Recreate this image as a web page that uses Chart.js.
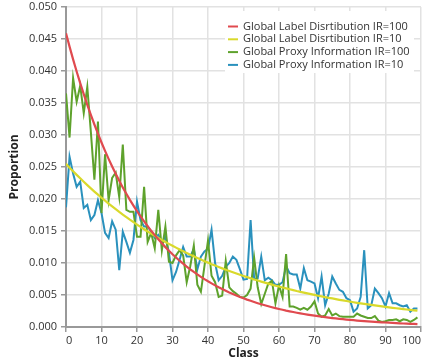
<!DOCTYPE html>
<html>
<head>
<meta charset="utf-8">
<script src="https://cdn.jsdelivr.net/npm/chart.js@4.4.1/dist/chart.umd.min.js"></script>
<style>
    html, body { margin: 0; padding: 0; background: #fff; }
    #wrap { width: 423px; height: 360px; }
</style>
</head>
<body>
<div id="wrap"><canvas id="propChart" width="423" height="360"></canvas></div>
<script>
// class index 0..99
const classes = Array.from({ length: 100 }, (_, i) => i);
const xTicks = [0, 10, 20, 30, 40, 50, 60, 70, 80, 90, 100];

const labelDist100 = [
    0.04590, 0.04381, 0.04182, 0.03992, 0.03811, 0.03638, 0.03472, 0.03314, 0.03164, 0.03020,
    0.02883, 0.02752, 0.02627, 0.02507, 0.02393, 0.02285, 0.02181, 0.02082, 0.01987, 0.01897,
    0.01811, 0.01728, 0.01650, 0.01575, 0.01503, 0.01435, 0.01370, 0.01307, 0.01248, 0.01191,
    0.01137, 0.01086, 0.01036, 0.00989, 0.00944, 0.00901, 0.00860, 0.00821, 0.00784, 0.00748,
    0.00714, 0.00682, 0.00651, 0.00621, 0.00593, 0.00566, 0.00540, 0.00516, 0.00492, 0.00470,
    0.00449, 0.00428, 0.00409, 0.00390, 0.00372, 0.00355, 0.00339, 0.00324, 0.00309, 0.00295,
    0.00282, 0.00269, 0.00256, 0.00245, 0.00234, 0.00223, 0.00213, 0.00203, 0.00194, 0.00185,
    0.00177, 0.00169, 0.00161, 0.00154, 0.00147, 0.00140, 0.00134, 0.00128, 0.00122, 0.00116,
    0.00111, 0.00106, 0.00101, 0.00097, 0.00092, 0.00088, 0.00084, 0.00080, 0.00077, 0.00073,
    0.00070, 0.00067, 0.00064, 0.00061, 0.00058, 0.00055, 0.00053, 0.00050, 0.00048, 0.00046
];

const labelDist10 = [
    0.02549, 0.02490, 0.02433, 0.02377, 0.02323, 0.02269, 0.02217, 0.02166, 0.02116, 0.02068,
    0.02020, 0.01974, 0.01928, 0.01884, 0.01841, 0.01798, 0.01757, 0.01717, 0.01677, 0.01639,
    0.01601, 0.01564, 0.01528, 0.01493, 0.01459, 0.01425, 0.01392, 0.01360, 0.01329, 0.01299,
    0.01269, 0.01240, 0.01211, 0.01183, 0.01156, 0.01130, 0.01104, 0.01078, 0.01053, 0.01029,
    0.01006, 0.00982, 0.00960, 0.00938, 0.00916, 0.00895, 0.00875, 0.00855, 0.00835, 0.00816,
    0.00797, 0.00779, 0.00761, 0.00743, 0.00726, 0.00709, 0.00693, 0.00677, 0.00662, 0.00646,
    0.00632, 0.00617, 0.00603, 0.00589, 0.00576, 0.00562, 0.00550, 0.00537, 0.00525, 0.00513,
    0.00501, 0.00489, 0.00478, 0.00467, 0.00456, 0.00446, 0.00435, 0.00425, 0.00416, 0.00406,
    0.00397, 0.00387, 0.00378, 0.00370, 0.00361, 0.00353, 0.00345, 0.00337, 0.00329, 0.00322,
    0.00314, 0.00307, 0.00300, 0.00293, 0.00286, 0.00280, 0.00273, 0.00267, 0.00261, 0.00255
];

const proxyInfo100 = [
    0.0365, 0.0296, 0.0389, 0.0352, 0.0377, 0.0334, 0.0375, 0.0305, 0.0230, 0.0321,
    0.0178, 0.0270, 0.0198, 0.0233, 0.0241, 0.0203, 0.0285, 0.0183, 0.0180, 0.0180,
    0.0141, 0.0141, 0.0219, 0.0133, 0.0147, 0.0123, 0.0183, 0.0120, 0.0157, 0.0102,
    0.0100, 0.0112, 0.0120, 0.0112, 0.0070, 0.0095, 0.0127, 0.0066, 0.0055, 0.0095,
    0.0135, 0.0080, 0.0070, 0.0047, 0.0049, 0.0103, 0.0062, 0.0056, 0.0052, 0.0047,
    0.0046, 0.0050, 0.0060, 0.0108, 0.0062, 0.0036, 0.0052, 0.0068, 0.0072, 0.0037,
    0.0065, 0.0047, 0.0114, 0.0032, 0.0032, 0.0030, 0.0027, 0.0030, 0.0027, 0.0032,
    0.0040, 0.0021, 0.0016, 0.0018, 0.0028, 0.0018, 0.0021, 0.0017, 0.0016, 0.0016,
    0.0016, 0.0016, 0.0021, 0.0018, 0.0016, 0.0014, 0.0014, 0.0017, 0.0010, 0.0008,
    0.0009, 0.0011, 0.0011, 0.0012, 0.0009, 0.0012, 0.0011, 0.0008, 0.0011, 0.0015
];

const proxyInfo10 = [
    0.0187, 0.0266, 0.0240, 0.0219, 0.0227, 0.0186, 0.0191, 0.0167, 0.0175, 0.0198,
    0.0178, 0.0147, 0.0139, 0.0165, 0.0152, 0.0089, 0.0149, 0.0133, 0.0116, 0.0136,
    0.0196, 0.0167, 0.0157, 0.0157, 0.0149, 0.0139, 0.0144, 0.0133, 0.0141, 0.0116,
    0.0073, 0.0086, 0.0105, 0.0125, 0.0110, 0.0110, 0.0122, 0.0090, 0.0110, 0.0118,
    0.0122, 0.0152, 0.0100, 0.0073, 0.0080, 0.0094, 0.0100, 0.0110, 0.0105, 0.0090,
    0.0074, 0.0075, 0.0167, 0.0075, 0.0076, 0.0110, 0.0073, 0.0077, 0.0073, 0.0066,
    0.0066, 0.0070, 0.0095, 0.0084, 0.0082, 0.0082, 0.0060, 0.0092, 0.0073, 0.0071,
    0.0068, 0.0045, 0.0079, 0.0034, 0.0052, 0.0079, 0.0068, 0.0058, 0.0055, 0.0045,
    0.0042, 0.0024, 0.0029, 0.0047, 0.0120, 0.0029, 0.0034, 0.0060, 0.0053, 0.0045,
    0.0032, 0.0053, 0.0037, 0.0037, 0.0034, 0.0032, 0.0034, 0.0024, 0.0029, 0.0029
];

const seriesNames = [
    'Global Label Disrtibution IR=100',
    'Global Label Disrtibution IR=10',
    'Global Proxy Information IR=100',
    'Global Proxy Information IR=10'
];
const seriesColors = ['#e04a4f', '#d9d92b', '#5ea22c', '#2a91bd'];

const FONT = '"Open Sans", "Noto Sans", sans-serif';

function toPoints(values) {
    return classes.map((c, i) => ({ x: c, y: values[i] }));
}

// legend drawn inside the plot, top right, on a white box
const boxLegend = {
    id: 'boxLegend',
    afterDraw(chart) {
        const ctx = chart.ctx;
        const x0 = 225, y0 = 11, w = 189, h = 62;
        ctx.save();
        ctx.fillStyle = '#fff';
        ctx.fillRect(x0, y0, w, h);
        ctx.font = '11px ' + FONT;
        ctx.textBaseline = 'middle';
        chart.data.datasets.forEach((ds, i) => {
            const y = y0 + 15.5 + i * 12.8;
            ctx.strokeStyle = ds.borderColor;
            ctx.lineWidth = 2;
            ctx.beginPath();
            ctx.moveTo(x0 + 3, y);
            ctx.lineTo(x0 + 13, y);
            ctx.stroke();
            ctx.fillStyle = '#333';
            ctx.fillText(ds.label, x0 + 18, y);
        });
        ctx.restore();
    }
};

document.addEventListener('DOMContentLoaded', function() {
    const ctx = document.getElementById('propChart');
    const values = [labelDist100, labelDist10, proxyInfo100, proxyInfo10];

    new Chart(ctx, {
        type: 'line',
        data: {
            datasets: values.map((v, i) => ({
                label: seriesNames[i],
                data: toPoints(v),
                borderColor: seriesColors[i],
                backgroundColor: seriesColors[i],
                borderWidth: i < 2 ? 2.2 : 2,
                pointRadius: 0,
                tension: 0,
                fill: false
            }))
        },
        options: {
            responsive: false,
            animation: false,
            layout: { padding: { top: 7, right: 2, left: 0, bottom: 0 } },
            plugins: {
                legend: { display: false },
                tooltip: { enabled: false }
            },
            scales: {
                x: {
                    type: 'linear',
                    min: 0,
                    max: 100,
                    afterBuildTicks: s => { s.ticks = xTicks.map(v => ({ value: v })); },
                    afterFit: s => { s.height = 33; s.paddingRight = 0; s.paddingLeft = 0; },
                    grid: { color: '#e2e2e2', lineWidth: 1.5, tickColor: '#999', tickLength: 5 },
                    border: { color: '#999', width: 2 },
                    ticks: { color: '#333', font: { family: FONT, size: 11 }, padding: 2, maxRotation: 0, align: 'inner' },
                    title: { display: true, text: 'Class', color: '#222', font: { family: FONT, size: 12, weight: 'bold', lineHeight: 1.05 }, padding: { top: 0, bottom: 0 } }
                },
                y: {
                    min: 0,
                    max: 0.05,
                    ticks: {
                        stepSize: 0.005,
                        color: '#333',
                        padding: 4,
                        font: { family: FONT, size: 11 },
                        callback: v => v.toFixed(3)
                    },
                    afterFit: s => { s.width = 66; s.paddingTop = 0; s.paddingBottom = 0; },
                    grid: { color: '#e2e2e2', lineWidth: 1.5, tickColor: '#999', tickLength: 5 },
                    border: { color: '#999', width: 2 },
                    title: { display: true, text: 'Proportion', color: '#222', font: { family: FONT, size: 12, weight: 'bold' }, padding: { top: 7, bottom: 0 } }
                }
            }
        },
        plugins: [boxLegend]
    });
});
</script>
</body>
</html>
